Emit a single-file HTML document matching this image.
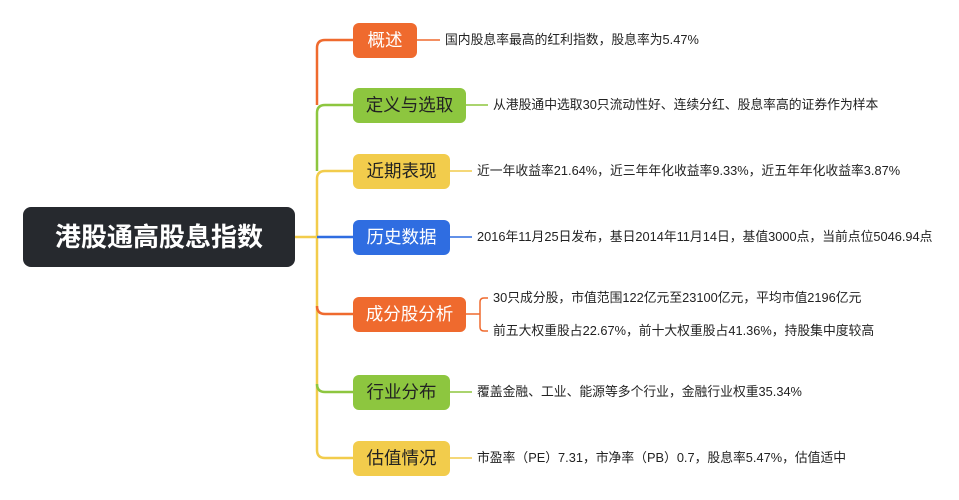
<!DOCTYPE html>
<html><head><meta charset="utf-8"><style>
body{margin:0;width:959px;height:500px;background:#fff;overflow:hidden;position:relative;font-family:"Liberation Sans","Noto Sans CJK SC",sans-serif}
.b{position:absolute;left:353px;height:35px;border-radius:6px;font-size:17.5px;line-height:35px;text-align:center}
.t{position:absolute;font-size:12.8px;color:#222;line-height:16px;white-space:nowrap}
</style></head><body>
<svg width="959" height="500" style="position:absolute;left:0;top:0" fill="none" stroke-width="2.5">
<path d="M295 237 H317" stroke="#f2cc4c"/>
<path d="M317 450 V179 Q317 171 325 171 H353 M317 450 Q317 458 325 458 H353" stroke="#f2cc4c"/>
<path d="M317 171 V113 Q317 105 325 105 H353" stroke="#8dc63f"/>
<path d="M317 105 V48 Q317 40 325 40 H353" stroke="#ef6a2e"/>
<path d="M317 237 H353" stroke="#2f6de1"/>
<path d="M317 306 Q317 314 325 314 H353" stroke="#ef6a2e"/>
<path d="M317 384 Q317 392 325 392 H353" stroke="#8dc63f"/>
<g stroke-width="1.5">
<path d="M417 40 H440" stroke="#ef6a2e"/>
<path d="M466 105 H488" stroke="#8dc63f"/>
<path d="M450 171 H472" stroke="#f2cc4c"/>
<path d="M450 237 H472" stroke="#2f6de1"/>
<path d="M466 314 H480 M488 298 H484 Q480 298 480 302 V327 Q480 331 484 331 H488" stroke="#ef6a2e"/>
<path d="M450 392 H472" stroke="#8dc63f"/>
<path d="M450 458 H472" stroke="#f2cc4c"/>
</g>
</svg>
<div style="position:absolute;left:23px;top:207px;width:272px;height:60px;background:#26292e;border-radius:8px;color:#fff;font-size:26px;font-weight:bold;line-height:60px;text-align:center">港股通高股息指数</div>
<div class="b" style="top:23px;width:64px;background:#ef6a2e;color:#fff">概述</div>
<div class="b" style="top:88px;width:113px;background:#8dc63f;color:#222">定义与选取</div>
<div class="b" style="top:154px;width:97px;background:#f2cc4c;color:#222">近期表现</div>
<div class="b" style="top:220px;width:97px;background:#2f6de1;color:#fff">历史数据</div>
<div class="b" style="top:297px;width:113px;background:#ef6a2e;color:#fff">成分股分析</div>
<div class="b" style="top:375px;width:97px;background:#8dc63f;color:#222">行业分布</div>
<div class="b" style="top:441px;width:97px;background:#f2cc4c;color:#222">估值情况</div>
<div class="t" style="left:445px;top:32px">国内股息率最高的红利指数，股息率为5.47%</div>
<div class="t" style="left:493px;top:97px">从港股通中选取30只流动性好、连续分红、股息率高的证券作为样本</div>
<div class="t" style="left:477px;top:163px">近一年收益率21.64%，近三年年化收益率9.33%，近五年年化收益率3.87%</div>
<div class="t" style="left:477px;top:229px">2016年11月25日发布，基日2014年11月14日，基值3000点，当前点位5046.94点</div>
<div class="t" style="left:493px;top:290px">30只成分股，市值范围122亿元至23100亿元，平均市值2196亿元</div>
<div class="t" style="left:493px;top:323px">前五大权重股占22.67%，前十大权重股占41.36%，持股集中度较高</div>
<div class="t" style="left:477px;top:384px">覆盖金融、工业、能源等多个行业，金融行业权重35.34%</div>
<div class="t" style="left:477px;top:450px">市盈率（PE）7.31，市净率（PB）0.7，股息率5.47%，估值适中</div>
</body></html>
